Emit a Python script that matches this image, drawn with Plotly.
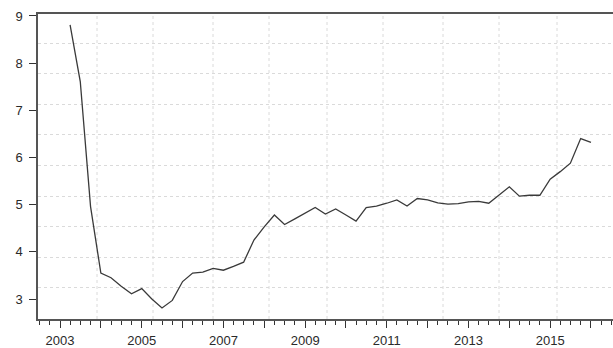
import pandas as pd
import plotly.graph_objects as go

# Quarterly series, 2003Q2 - 2016Q1
dates = pd.date_range("2003-04-01", periods=52, freq="QS")
values = [
    8.81, 7.61, 4.96,
    3.55, 3.45, 3.27, 3.11,
    3.22, 3.00, 2.81, 2.97,
    3.37, 3.55, 3.57, 3.65,
    3.61, 3.69, 3.78, 4.25,
    4.53, 4.78, 4.58, 4.70,
    4.83, 4.94, 4.80, 4.91,
    4.78, 4.65, 4.94, 4.97,
    5.03, 5.10, 4.97, 5.13,
    5.10, 5.04, 5.01, 5.02,
    5.06, 5.07, 5.03, 5.21,
    5.38, 5.18, 5.20, 5.20,
    5.54, 5.70, 5.88, 6.40,
    6.32,
]

year_ticks = [f"{y}-01-01" for y in range(2003, 2017)]
year_labels = [str(y) if y % 2 == 1 else "" for y in range(2003, 2017)]
y_ticks = [3, 4, 5, 6, 7, 8, 9]

fig = go.Figure()
fig.add_trace(go.Scatter(
    x=dates, y=values, mode="lines",
    line=dict(color="#3a3a3a", width=1.3),
    showlegend=False, hoverinfo="skip",
))

# faint dotted vertical guide lines (paper fractions across the plot width)
v_grid = [97, 153, 213, 269, 327, 383, 443, 499, 557]
for px in v_grid:
    f = (px - 38) / 575
    fig.add_shape(type="line", xref="paper", yref="paper", x0=f, x1=f, y0=0, y1=1,
                  line=dict(color="#dadada", width=1, dash="dot"), layer="below")

fig.update_layout(
    width=613, height=348,
    margin=dict(l=38, r=0, t=14, b=29),
    paper_bgcolor="white", plot_bgcolor="white",
    font=dict(family="Liberation Sans, Arial, sans-serif", size=13, color="#2a2a2a"),
)
fig.update_xaxes(
    type="date", automargin=False,
    range=["2002-06-18", "2016-07-16"],
    tickmode="array", tickvals=year_ticks, ticktext=year_labels,
    ticks="outside", ticklen=7, tickcolor="#333", tickwidth=1.2,
    ticklabelstandoff=2, tickfont=dict(size=13),
    minor=dict(dtick="M3", tick0="2003-01-01", ticks="outside", ticklen=4,
               tickcolor="#333", showgrid=False),
    showgrid=False, zeroline=False,
    showline=True, linecolor="#555", linewidth=1.5, mirror=True,
)
fig.update_yaxes(
    automargin=False,
    range=[2.576, 9.042],
    tickmode="array", tickvals=y_ticks,
    ticks="outside", ticklen=7, tickcolor="#333", tickwidth=1.2,
    ticklabelstandoff=4,
    showgrid=False, zeroline=False,
    minor=dict(tick0=3.234, dtick=0.649, ticks="", showgrid=True,
               gridcolor="#dadada", griddash="dot", gridwidth=1),
    showline=True, linecolor="#555", linewidth=1.5,
)

fig.write_html("out.html")
